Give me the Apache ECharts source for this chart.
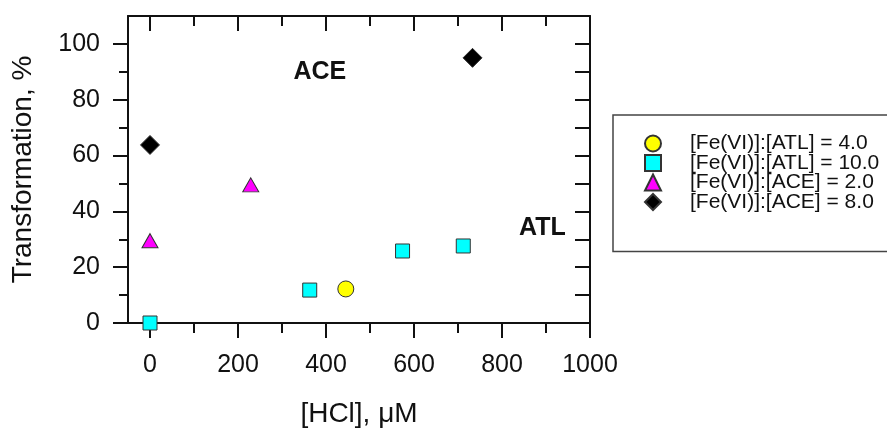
<!DOCTYPE html>
<html>
<head>
<meta charset="utf-8">
<script src="https://cdn.jsdelivr.net/npm/echarts@6/dist/echarts.min.js"></script>
<style>
  html, body { margin: 0; padding: 0; background: #fff; }
  #chart { width: 887px; height: 434px; }
</style>
</head>
<body>
<div id="chart"></div>
<script>
// Transformation (%) of atenolol (ATL) and acetaminophen (ACE) by Fe(VI) vs. added HCl
const seriesNames = [
  '[Fe(VI)]:[ATL] = 4.0',
  '[Fe(VI)]:[ATL] = 10.0',
  '[Fe(VI)]:[ACE] = 2.0',
  '[Fe(VI)]:[ACE] = 8.0'
];
// [HCl (µM), transformation (%)]
const atlRatio4 = [[445, 12.2]];
const atlRatio10 = [[0, 0], [363, 11.8], [574, 25.8], [712, 27.6]];
const aceRatio2 = [[0, 29.5], [229, 49.5]];
const aceRatio8 = [[0, 63.8], [733, 95]];

// compound labels placed in data space
const compoundLabels = [[386, 90, 'ACE'], [892, 34, 'ATL']];

// axis ticks
const xMajorTicks = [0, 200, 400, 600, 800, 1000];
const xMinorTicks = [100, 300, 500, 700, 900];
const yMajorTicks = [0, 20, 40, 60, 80, 100];
const yMinorTicks = [10, 30, 50, 70, 90];
const yRightTicks = [0, 10, 20, 30, 40, 50, 60, 70, 80, 90, 100];

const FONT = '"Liberation Sans", Arial, Helvetica, sans-serif';
const INK = '#111';
const X_RANGE = { min: -50, max: 1000 };
const Y_RANGE = { min: 0, max: 110 };

const line = { show: true, onZero: false, lineStyle: { color: INK, width: 2 } };
const noLine = { show: false, onZero: false };

function xAxisDef(position, ticks, len, inside, extra) {
  return Object.assign({
    type: 'value', position: position, min: X_RANGE.min, max: X_RANGE.max,
    axisLine: noLine,
    axisTick: { show: true, inside: inside, length: len, customValues: ticks,
                lineStyle: { color: INK, width: 2 } },
    axisLabel: { show: false },
    splitLine: { show: false }
  }, extra || {});
}
function yAxisDef(position, ticks, len, inside, extra) {
  return Object.assign({
    type: 'value', position: position, min: Y_RANGE.min, max: Y_RANGE.max,
    axisLine: noLine,
    axisTick: { show: true, inside: inside, length: len, customValues: ticks,
                lineStyle: { color: INK, width: 2 } },
    axisLabel: { show: false },
    splitLine: { show: false }
  }, extra || {});
}

const plain = function (v) { return String(v); };
const markerStyle = { borderColor: '#333', borderWidth: 1, opacity: 1 };

const chart = echarts.init(document.getElementById('chart'), null, { renderer: 'canvas' });
chart.setOption({
  backgroundColor: '#fff',
  animation: false,
  textStyle: { fontFamily: FONT },
  grid: { left: 128, right: 297, top: 16, bottom: 111 },
  legend: {
    data: seriesNames,
    orient: 'vertical',
    left: 613, top: 115,
    padding: [18, 220, 39, 31],
    itemWidth: 16, itemHeight: 16, itemGap: -1.5,
    borderColor: '#444', borderWidth: 1.5,
    formatter: '{t|{name}}',
    textStyle: {
      rich: { t: { fontFamily: FONT, fontSize: 21, lineHeight: 19, color: INK, padding: [0, 0, 0, 24] } }
    },
    selectedMode: false
  },
  xAxis: [
    xAxisDef('bottom', xMajorTicks, 15, false, {
      axisLine: line,
      axisLabel: { show: true, customValues: xMajorTicks, margin: 30, formatter: plain,
                   fontFamily: FONT, fontSize: 25, color: INK },
      name: '[HCl], \u03bcM', nameLocation: 'middle', nameGap: 77,
      nameTextStyle: { fontFamily: FONT, fontSize: 28, color: INK }
    }),
    xAxisDef('bottom', xMinorTicks, 10, false),
    xAxisDef('top', xMajorTicks, 15, true, { axisLine: line }),
    xAxisDef('top', xMinorTicks, 10, true)
  ],
  yAxis: [
    yAxisDef('left', yMajorTicks, 15, false, {
      axisLine: line,
      axisLabel: { show: true, customValues: yMajorTicks, margin: 28, formatter: plain,
                   fontFamily: FONT, fontSize: 25, color: INK },
      name: 'Transformation, %', nameLocation: 'middle', nameGap: 91,
      nameTextStyle: { fontFamily: FONT, fontSize: 28, color: INK }
    }),
    yAxisDef('left', yMinorTicks, 9, false),
    yAxisDef('right', yRightTicks, 15, true, { axisLine: line })
  ],
  series: [
    {
      name: seriesNames[0], type: 'scatter', data: atlRatio4, clip: false, z: 5,
      symbol: 'circle', symbolSize: 16,
      itemStyle: Object.assign({ color: '#ffff00' }, markerStyle)
    },
    {
      name: seriesNames[1], type: 'scatter', data: atlRatio10, clip: false, z: 5,
      symbol: 'rect', symbolSize: 14,
      itemStyle: Object.assign({ color: '#00ffff' }, markerStyle)
    },
    {
      name: seriesNames[2], type: 'scatter', data: aceRatio2, clip: false, z: 5,
      symbol: 'triangle', symbolSize: [16, 14],
      itemStyle: Object.assign({ color: '#ff00ff' }, markerStyle)
    },
    {
      name: seriesNames[3], type: 'scatter', data: aceRatio8, clip: false, z: 5,
      symbol: 'diamond', symbolSize: 19,
      itemStyle: Object.assign({ color: '#000000' }, markerStyle)
    },
    {
      name: 'compounds', type: 'scatter', data: compoundLabels, silent: true,
      symbolSize: 0, clip: false,
      itemStyle: { opacity: 1 },
      label: {
        show: true, position: 'inside',
        formatter: function (p) { return p.value[2]; },
        fontFamily: FONT, fontSize: 25, fontWeight: 'bold', color: INK
      }
    }
  ]
});
</script>
</body>
</html>
